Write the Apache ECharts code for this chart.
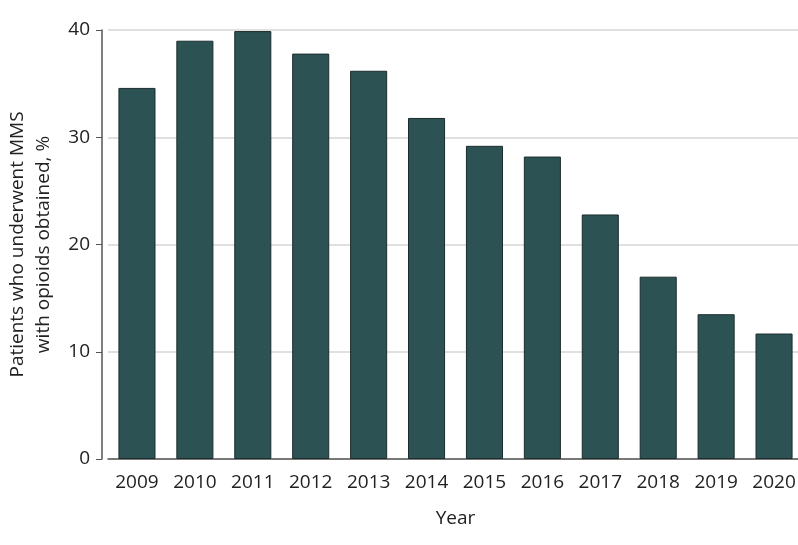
<!DOCTYPE html>
<html>
<head>
<meta charset="utf-8">
<script src="https://cdn.jsdelivr.net/npm/echarts@6/dist/echarts.min.js"></script>
<style>
  html, body { margin: 0; padding: 0; background: #fff; }
  #chart { width: 798px; height: 545px; }
</style>
</head>
<body>
<div id="chart"></div>
<script>
// data
var years = ['2009', '2010', '2011', '2012', '2013', '2014', '2015', '2016', '2017', '2018', '2019', '2020'];
var percents = [34.6, 39.0, 39.9, 37.8, 36.2, 31.8, 29.2, 28.2, 22.8, 17.0, 13.5, 11.7];
var yTicks = [0, 10, 20, 30, 40];

var font = 'Open Sans';

var chart = echarts.init(document.getElementById('chart'));
chart.setOption({
  animation: false,
  grid: {
    left: 108,
    right: -5,
    top: 30,
    bottom: 86,
    outerBoundsMode: 'none'
  },
  xAxis: {
    type: 'category',
    data: years,
    name: 'Year',
    nameLocation: 'middle',
    nameGap: 50,
    nameTextStyle: { color: '#222', fontSize: 19, fontFamily: font },
    axisLine: { lineStyle: { color: '#555', width: 1.5 } },
    axisTick: { show: false },
    axisLabel: { color: '#222', fontSize: 19, fontFamily: font, margin: 14, interval: 0, hideOverlap: false }
  },
  yAxis: {
    type: 'value',
    min: yTicks[0],
    max: yTicks[yTicks.length - 1],
    interval: 10,
    offset: 6,
    name: 'Patients who underwent MMS\nwith opioids obtained, %',
    nameLocation: 'middle',
    nameGap: 45,
    nameTextStyle: { color: '#222', fontSize: 19, fontFamily: font, lineHeight: 26 },
    axisLine: { show: true, lineStyle: { color: '#555', width: 1.5 } },
    axisTick: { show: true, length: 6, lineStyle: { color: '#555' } },
    axisLabel: { color: '#222', fontSize: 19, fontFamily: font, margin: 12 },
    splitLine: { lineStyle: { color: '#d6d6d6', width: 1.5 } }
  },
  series: [
    {
      type: 'bar',
      data: percents,
      barWidth: '64%',
      itemStyle: {
        color: '#2c5253',
        borderColor: '#1b2d2d',
        borderWidth: 1
      }
    }
  ]
});
</script>
</body>
</html>
